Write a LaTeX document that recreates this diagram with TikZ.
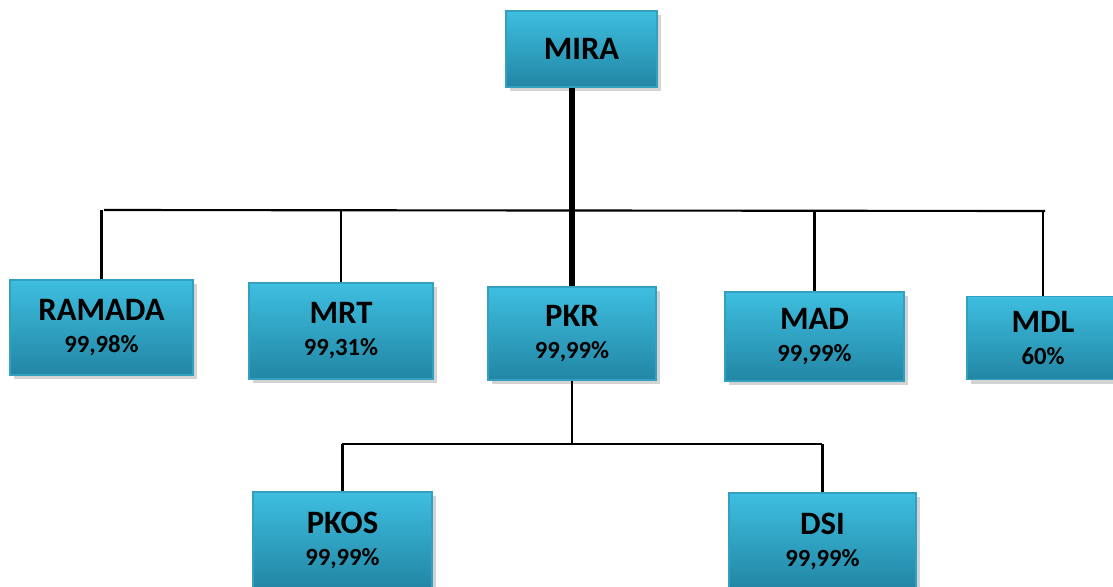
\documentclass[tikz,border=0pt]{standalone}
\usepackage{fontspec}
\setmainfont{Carlito}
\usetikzlibrary{shadows}

\definecolor{boxtop}{RGB}{62,190,224}
\definecolor{boxbot}{RGB}{34,134,164}
\definecolor{boxline}{RGB}{52,160,192}

\tikzset{
  entity/.style={draw=boxline, line width=0.8pt, top color=boxtop, bottom color=boxbot,
    drop shadow={shadow xshift=3pt, shadow yshift=-3pt, opacity=0.35},
    font=\bfseries\fontsize{24.5}{27}\selectfont, align=center, inner sep=0pt},
  link/.style={line width=1.6pt},
}
\newcommand{\pct}[1]{{\fontsize{18.5}{20}\selectfont #1}}

\begin{document}
\begin{tikzpicture}[x=0.75pt,y=-0.75pt]
  % Frame of the picture
  \useasboundingbox (0,0) rectangle (1113,586);
  \clip (0,0) rectangle (1113,586);

  % Define the boxes
  \node[entity, minimum width=113.25pt, minimum height=57pt] (mira) at (581.5,49) {MIRA};
  \node[entity, minimum width=137.25pt, minimum height=71.25pt] (ramada) at (101.5,327.5) {RAMADA\\[-3pt]\pct{99,98\%}};
  \node[entity, minimum width=138pt, minimum height=72pt] (mrt) at (341,331) {MRT\\[-3pt]\pct{99,31\%}};
  \node[entity, minimum width=126pt, minimum height=69.75pt] (pkr) at (572,333.5) {PKR\\[-3pt]\pct{99,99\%}};
  \node[entity, minimum width=134.25pt, minimum height=66.75pt] (mad) at (814.5,336.5) {MAD\\[-3pt]\pct{99,99\%}};
  \node[entity, minimum width=114pt, minimum height=62.25pt] (mdl) at (1043,338) {MDL\\[-3pt]\pct{60\%}};
  \node[entity, minimum width=134.25pt, minimum height=72pt] (pkos) at (342.5,540) {PKOS\\[-3pt]\pct{99,99\%}};
  \node[entity, minimum width=140.25pt, minimum height=72pt] (dsi) at (822.5,541) {DSI\\[-3pt]\pct{99,99\%}};

  % Bus lines
  \coordinate (busL) at (104,210);
  \coordinate (busR) at (1045,211);
  \coordinate (subL) at (342,444);
  \coordinate (subR) at (822,444);

  % Draw the links
  \draw[line width=3.8pt] (mira.south -| pkr.north) -- (pkr.north);
  \draw[link] (busL) -- (busR);
  \draw[link] (ramada.north |- busL) -- (ramada.north);
  \draw[link] (mrt.north |- busL) -- (mrt.north);
  \draw[link] (mad.north |- busL) -- (mad.north);
  \draw[link] (mdl.north |- busL) -- (mdl.north);
  \draw[link] (pkr.south) -- (pkr.south |- subL);
  \draw[link] (subL) -- (subR);
  \draw[link] (pkos.north |- subL) -- (pkos.north);
  \draw[link] (dsi.north |- subR) -- (dsi.north);
\end{tikzpicture}
\end{document}
